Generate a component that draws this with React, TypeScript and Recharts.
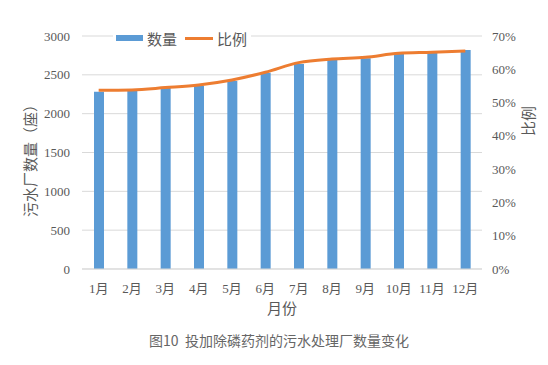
import { ComposedChart, Bar, Line, XAxis, YAxis, CartesianGrid } from 'recharts';

const months = ['1月', '2月', '3月', '4月', '5月', '6月', '7月', '8月', '9月', '10月', '11月', '12月'];
const counts = [2282, 2291, 2334, 2360, 2420, 2527, 2639, 2695, 2714, 2778, 2788, 2819];
const ratios = [0.537, 0.538, 0.545, 0.553, 0.568, 0.591, 0.62, 0.631, 0.636, 0.648, 0.651, 0.655];

const countTicks = [0, 500, 1000, 1500, 2000, 2500, 3000];
const ratioTicks = [0, 0.1, 0.2, 0.3, 0.4, 0.5, 0.6, 0.7];

const BLUE = '#5B9BD5';
const ORANGE = '#ED7D31';
const TEXT = '#595959';
const GRID = '#D9D9D9';
const NUM_FONT = '"Liberation Serif", "Noto Sans CJK SC", serif';
const CJK_FONT = '"Noto Sans CJK SC", "Noto Sans", sans-serif';

const data = months.map((m, i) => ({ month: m, count: counts[i], ratio: ratios[i] }));

const tickStyle = { fontSize: 13, fill: TEXT, fontFamily: NUM_FONT };

const App = () => {
  return (
    <div style={{ position: 'relative', width: 548, height: 365, margin: -8, background: '#fff' }}>
      <ComposedChart
        width={548}
        height={365}
        data={data}
        margin={{ top: 36, right: 16, left: 32, bottom: 66 }}
      >
        <CartesianGrid vertical={false} stroke={GRID} yAxisId="left" />
        <XAxis
          dataKey="month"
          stroke={GRID}
          tickLine={false}
          tickMargin={9}
          height={30}
          tick={tickStyle}
          interval={0}
        />
        <YAxis
          yAxisId="left"
          width={50}
          domain={[0, 3000]}
          ticks={countTicks}
          axisLine={false}
          tickLine={false}
          tickMargin={6}
          tick={tickStyle}
        />
        <YAxis
          yAxisId="right"
          orientation="right"
          width={50}
          domain={[0, 0.7]}
          ticks={ratioTicks}
          axisLine={false}
          tickLine={false}
          tickMargin={4}
          tick={{ ...tickStyle, textAnchor: 'start' }}
          tickFormatter={(v: number) => `${Math.round(v * 100)}%`}
        />
        <Bar yAxisId="left" dataKey="count" fill={BLUE} barSize={10} isAnimationActive={false} />
        <Line
          yAxisId="right"
          dataKey="ratio"
          type="monotone"
          stroke={ORANGE}
          strokeWidth={3}
          dot={false}
          activeDot={false}
          isAnimationActive={false}
        />
      </ComposedChart>

      {/* 图例：盖在网格线上，白底 */}
      <div
        style={{
          position: 'absolute',
          left: 113,
          top: 28,
          width: 138,
          height: 20,
          background: '#fff',
          display: 'flex',
          alignItems: 'center',
          fontFamily: CJK_FONT,
          fontSize: 15,
          color: TEXT,
        }}
      >
        <span style={{ display: 'inline-block', width: 27, height: 6, background: BLUE, marginLeft: 3 }} />
        <span style={{ marginLeft: 4 }}>数量</span>
        <span style={{ display: 'inline-block', width: 28, height: 3, background: ORANGE, marginLeft: 8 }} />
        <span style={{ marginLeft: 4 }}>比例</span>
      </div>

      <svg width={548} height={365} style={{ position: 'absolute', left: 0, top: 0, pointerEvents: 'none' }}>
        <text
          x={29}
          y={157}
          transform="rotate(-90 29 157)"
          textAnchor="middle"
          dominantBaseline="central"
          fontSize={15}
          fill={TEXT}
          fontFamily={CJK_FONT}
        >
          污水厂数量（座）
        </text>
        <text
          x={527}
          y={121}
          transform="rotate(-90 527 121)"
          textAnchor="middle"
          dominantBaseline="central"
          fontSize={15}
          fill={TEXT}
          fontFamily={CJK_FONT}
        >
          比例
        </text>
        <text x={282} y={307} textAnchor="middle" dominantBaseline="central" fontSize={15} fill={TEXT} fontFamily={CJK_FONT}>
          月份
        </text>
        <text
          x={279}
          y={340}
          textAnchor="middle"
          dominantBaseline="central"
          fontSize={14}
          fill="#666"
          fontFamily={CJK_FONT}
          style={{ whiteSpace: 'pre' }}
        >
          {'图10  投加除磷药剂的污水处理厂数量变化'}
        </text>
      </svg>
    </div>
  );
};

export default App;
